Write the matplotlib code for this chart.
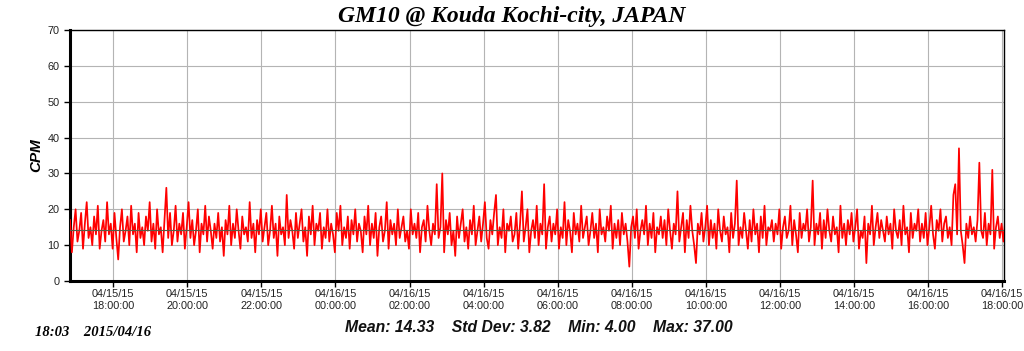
import numpy as np
import pandas as pd
from matplotlib import pyplot as plt
import matplotlib.dates as mdates

# CPM readings, one every 3 minutes starting 04/15/15 16:50,
# one row = one hour
cpm = [
    17, 8, 15, 20, 11, 14, 19, 9, 16, 22, 12, 15, 10, 18, 13, 21, 9, 14, 17, 11,
    22, 13, 16, 9, 19, 12, 6, 15, 20, 11, 14, 18, 10, 21, 13, 16, 8, 19, 12, 15,
    10, 18, 14, 22, 11, 16, 9, 20, 13, 15, 8, 17, 26, 12, 19, 10, 14, 21, 11, 16,
    13, 19, 9, 15, 22, 12, 17, 10, 14, 20, 8, 16, 13, 21, 11, 18, 14, 9, 16, 12,
    19, 11, 15, 7, 17, 13, 21, 10, 16, 12, 20, 14, 9, 18, 13, 15, 11, 22, 12, 16,
    8, 17, 13, 20, 11, 15, 19, 10, 14, 21, 12, 16, 7, 18, 13, 15, 10, 24, 12, 17,
    14, 9, 19, 12, 16, 20, 11, 15, 7, 18, 13, 21, 10, 16, 14, 19, 9, 15, 12, 20,
    11, 16, 13, 8, 19, 14, 21, 10, 15, 12, 18, 9, 17, 13, 20, 11, 16, 14, 8, 18,
    13, 21, 10, 16, 12, 19, 7, 15, 18, 11, 14, 22, 9, 17, 13, 16, 10, 20, 12, 15,
    18, 11, 14, 9, 20, 13, 16, 12, 19, 8, 15, 17, 11, 21, 14, 10, 16, 13, 27, 12,
    15, 30, 8, 17, 13, 19, 10, 14, 7, 18, 12, 16, 20, 11, 15, 9, 17, 13, 21, 10,
    14, 18, 11, 16, 22, 12, 9, 17, 13, 19, 24, 10, 15, 12, 20, 8, 16, 14, 18, 11,
    13, 19, 9, 16, 25, 11, 15, 20, 8, 14, 17, 12, 21, 10, 16, 13, 27, 9, 15, 18,
    11, 16, 13, 20, 9, 15, 12, 22, 10, 17, 14, 8, 19, 13, 16, 11, 21, 12, 15, 18,
    10, 14, 19, 12, 16, 8, 20, 13, 15, 11, 18, 14, 21, 9, 16, 12, 17, 10, 19, 13,
    16, 11, 4, 15, 18, 12, 20, 9, 14, 17, 13, 21, 10, 16, 12, 19, 8, 15, 13, 18,
    12, 17, 10, 20, 14, 9, 16, 13, 25, 11, 15, 19, 8, 17, 12, 21, 14, 10, 5, 16,
    13, 19, 11, 15, 21, 10, 17, 12, 16, 9, 20, 14, 11, 18, 13, 15, 8, 19, 12, 16,
    28, 10, 15, 12, 19, 14, 9, 17, 11, 20, 13, 16, 8, 18, 12, 21, 10, 15, 14, 17,
    11, 16, 13, 20, 9, 15, 18, 12, 14, 21, 10, 17, 13, 8, 19, 12, 16, 14, 20, 11,
    15, 28, 10, 16, 13, 19, 9, 17, 12, 20, 14, 11, 18, 13, 15, 8, 21, 12, 16, 10,
    17, 13, 19, 11, 15, 20, 9, 14, 12, 18, 5, 16, 13, 21, 10, 15, 19, 12, 17, 14,
    11, 18, 13, 16, 9, 20, 14, 12, 17, 10, 21, 13, 15, 8, 19, 12, 16, 14, 20, 11,
    16, 12, 19, 10, 15, 21, 13, 9, 17, 14, 20, 11, 16, 18, 12, 15, 10, 24, 27, 13,
    37, 14, 10, 5, 16, 12, 18, 13, 15, 11, 17, 33, 14, 12, 19, 10, 16, 13, 31, 9,
    15, 18, 12, 16, 11, 17,
]
times = pd.date_range("2015-04-15 16:50", periods=len(cpm), freq="3min")

title = "GM10 @ Kouda Kochi-city, JAPAN"
stats = "Mean: 14.33    Std Dev: 3.82    Min: 4.00    Max: 37.00"
stamp = "18:03    2015/04/16"
mean_cpm = 14.33

fig = plt.figure(figsize=(10.24, 3.51), dpi=100)
ax = fig.add_axes([0.0684, 0.1994, 0.9121, 0.7151])

ax.plot(times, cpm, color="#ff0000", lw=1.25, zorder=3)
ax.axhline(mean_cpm, color="#5a5a45", lw=0.8, zorder=4)

ax.set_xlim(pd.Timestamp("2015-04-15 16:50"), pd.Timestamp("2015-04-16 18:03"))
ax.set_ylim(0, 70)
ax.set_yticks(np.arange(0, 71, 10))
ax.xaxis.set_major_locator(mdates.HourLocator(byhour=range(0, 24, 2)))
ax.xaxis.set_major_formatter(mdates.DateFormatter("%m/%d/%y\n%H:%M:%S"))
ax.grid(True, color="#b4b4b4", lw=0.8, zorder=0)

ax.tick_params(axis="both", labelsize=7.8, length=4, width=1, colors="black",
               labelcolor="#222222")
for lab in ax.get_xticklabels() + ax.get_yticklabels():
    lab.set_fontfamily("Liberation Sans")
ax.tick_params(axis="x", pad=2)

ax.spines["left"].set_linewidth(2.2)
ax.spines["bottom"].set_linewidth(2.2)
ax.spines["top"].set_linewidth(1.0)
ax.spines["right"].set_linewidth(1.0)

ax.set_ylabel("CPM", fontsize=11, fontweight="bold", fontstyle="italic",
              family="Liberation Sans", labelpad=3)

fig.text(0.5, 0.953, title, ha="center", va="center", fontsize=17,
         fontweight="bold", fontstyle="italic", family="Liberation Serif")
fig.text(0.526, 0.068, stats, ha="center", va="center", fontsize=11.3,
         fontweight="bold", fontstyle="italic", family="Liberation Sans",
         color="#111111")
fig.text(0.034, 0.054, stamp, ha="left", va="center", fontsize=10.5,
         fontweight="bold", fontstyle="italic", family="Liberation Serif")

fig.savefig("out.png", dpi=100)
